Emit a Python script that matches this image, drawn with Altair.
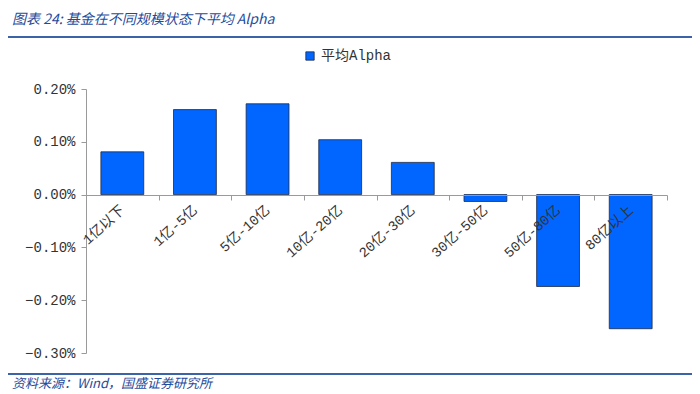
import altair as alt
import pandas as pd

categories = ["1亿以下", "1亿-5亿", "5亿-10亿", "10亿-20亿", "20亿-30亿", "30亿-50亿", "50亿-80亿", "80亿以上"]
alpha_values = [0.00081, 0.00161, 0.00172, 0.00104, 0.00061, -0.00013, -0.00174, -0.00254]
series_name = "平均Alpha"
y_ticks = [-0.003, -0.002, -0.001, 0.0, 0.001, 0.002]
title_text = ["图表 24:  基金在不同规模状态下平均 Alpha"]
source_text = ["资料来源：Wind，国盛证券研究所"]

W, H = 581, 264
PL, PT, PR, PB = 78, 81, 25, 38

df = pd.DataFrame({"cat": categories, "val": alpha_values, "series": [series_name] * len(categories)})

bars = alt.Chart(df).mark_bar(
    width=alt.RelativeBandSize(0.59), stroke="#1f2a44", strokeWidth=0.8
).encode(
    x=alt.X("cat:N", sort=categories, title=None,
            scale=alt.Scale(paddingInner=0, paddingOuter=0),
            axis=alt.Axis(offset=-158, labelAngle=-42, labelAlign="right", zindex=1,
                          labelBaseline="middle", tickBand="extent", tickSize=5, tickColor="#9a9a9a",
                          domainColor="#9a9a9a", labelFont="Liberation Mono, Noto Sans CJK SC",
                          labelFontSize=14, labelColor="#333333", labelPadding=8)),
    y=alt.Y("val:Q", title=None,
            scale=alt.Scale(domain=[-0.003, 0.002], nice=False, zero=False),
            axis=alt.Axis(values=y_ticks, format=".2%", grid=False, tickSize=5, tickColor="#9a9a9a",
                          domainColor="#9a9a9a", labelFont="Liberation Mono", labelFontSize=14,
                          labelColor="#333333", labelPadding=6)),
    color=alt.Color("series:N", title=None,
                    scale=alt.Scale(domain=[series_name], range=["#0066ff"]),
                    legend=alt.Legend(orient="none", legendX=217, legendY=-40, symbolType="square",
                                      symbolSize=70, symbolStrokeColor="#1f2a44", symbolStrokeWidth=0.8,
                                      labelFont="Liberation Mono, Noto Sans CJK SC", labelFontSize=14,
                                      labelColor="#333333", direction="horizontal")),
)

title = alt.Chart(pd.DataFrame({"t": title_text})).mark_text(
    align="left", baseline="middle", font="Noto Sans CJK SC", fontSize=14, fontStyle="italic",
    color="#1f4b9c"
).encode(text="t:N", x=alt.value(-74), y=alt.value(-69))

title_line = alt.Chart(pd.DataFrame({"a": [0]})).mark_rule(color="#3a63a8", strokeWidth=2).encode(
    x=alt.value(-PL), x2=alt.value(W + PR), y=alt.value(-52))

footer_line = alt.Chart(pd.DataFrame({"a": [0]})).mark_rule(color="#3a63a8", strokeWidth=2).encode(
    x=alt.value(-PL), x2=alt.value(W + PR), y=alt.value(285))

footer = alt.Chart(pd.DataFrame({"t": source_text})).mark_text(
    align="left", baseline="middle", font="Noto Sans CJK SC", fontSize=13, fontStyle="italic",
    color="#1f4b9c"
).encode(text="t:N", x=alt.value(-74), y=alt.value(295))

chart = alt.layer(bars, title, title_line, footer_line, footer).properties(
    width=W, height=H,
    autosize=alt.AutoSizeParams(type="none"),
    padding={"left": PL, "top": PT, "right": PR, "bottom": PB},
).configure_view(stroke=None)

chart.save("out.html", embed_options={"renderer": "svg", "actions": False})
